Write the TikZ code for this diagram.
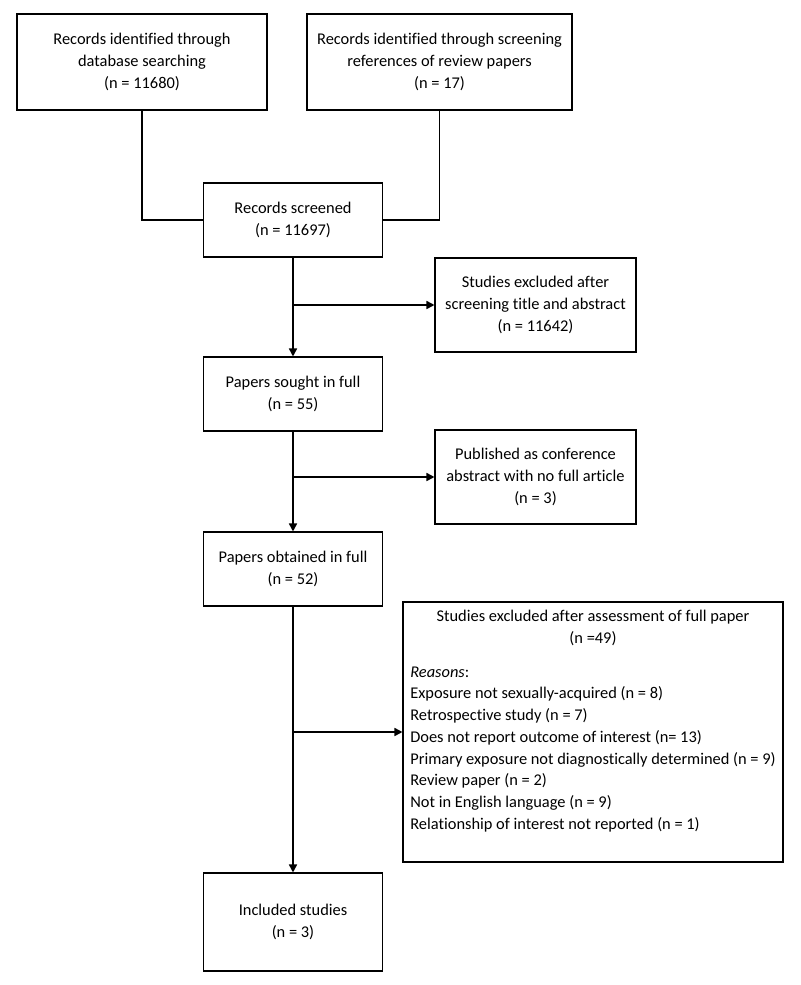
\documentclass[tikz,border=0pt]{standalone}
\usepackage{fontspec}
\setmainfont[Ligatures=NoCommon]{Carlito}
\usetikzlibrary{arrows.meta}
\begin{document}
\begin{tikzpicture}[x=0.75pt,y=-0.75pt,
  box/.style 2 args={draw=black, line width=0.8pt, rectangle, inner sep=0pt,
    minimum width=#1*0.75pt, minimum height=#2*0.75pt, align=center,
    font=\fontsize{12.3pt}{16.3pt}\selectfont},
  link/.style={draw=black, line width=0.9pt},
  flow/.style={draw=black, line width=1.2pt, -{Triangle[length=6pt,width=6pt]}}]
\useasboundingbox (0,0) rectangle (800,985);

\node[box={250}{96}] (b1) at (142,62) {Records identified through\\database searching\\(n = 11680)};
\node[box={265}{96}] (b2) at (439.5,62) {Records identified through screening\\references of review papers\\(n = 17)};
\node[box={179}{74}] (scr) at (293,220) {Records screened\\(n = 11697)};
\node[box={201}{94}] (ex1) at (535.5,305) {Studies excluded after\\screening title and abstract\\(n = 11642)};
\node[box={179}{74}] (sought) at (293,394) {Papers sought in full\\(n = 55)};
\node[box={201}{94}] (ex2) at (535.5,477) {Published as conference\\abstract with no full article\\(n = 3)};
\node[box={179}{74}] (obt) at (293,569) {Papers obtained in full\\(n = 52)};
\node[box={380}{260}] (ex3) at (593,732) {\begin{tabular}{@{}l@{}}
\multicolumn{1}{@{}c@{}}{Studies excluded after assessment of full paper}\\
\multicolumn{1}{@{}c@{}}{(n =49)}\\[9pt]
\textit{Reasons}:\\
Exposure not sexually-acquired (n = 8)\\
Retrospective study (n = 7)\\
Does not report outcome of interest (n= 13)\\
Primary exposure not diagnostically determined (n = 9)\\
Review paper (n = 2)\\
Not in English language (n = 9)\\
Relationship of interest not reported (n = 1)\\
\mbox{}
\end{tabular}};
\node[box={179}{98}] (incl) at (293,922) {Included studies\\(n = 3)};

\draw[link] (b1.south) |- (scr.west);
\draw[link] (b2.south) |- (scr.east);

\coordinate (j1) at (scr.south |- ex1.west);
\coordinate (j2) at (sought.south |- ex2.west);
\coordinate (j3) at (obt.south |- ex3.west);

\draw[flow] (scr.south) -- (sought.north);
\draw[flow] (j1) -- (ex1.west);
\draw[flow] (sought.south) -- (obt.north);
\draw[flow] (j2) -- (ex2.west);
\draw[flow] (obt.south) -- (incl.north);
\draw[flow] (j3) -- (ex3.west);
\end{tikzpicture}
\end{document}
